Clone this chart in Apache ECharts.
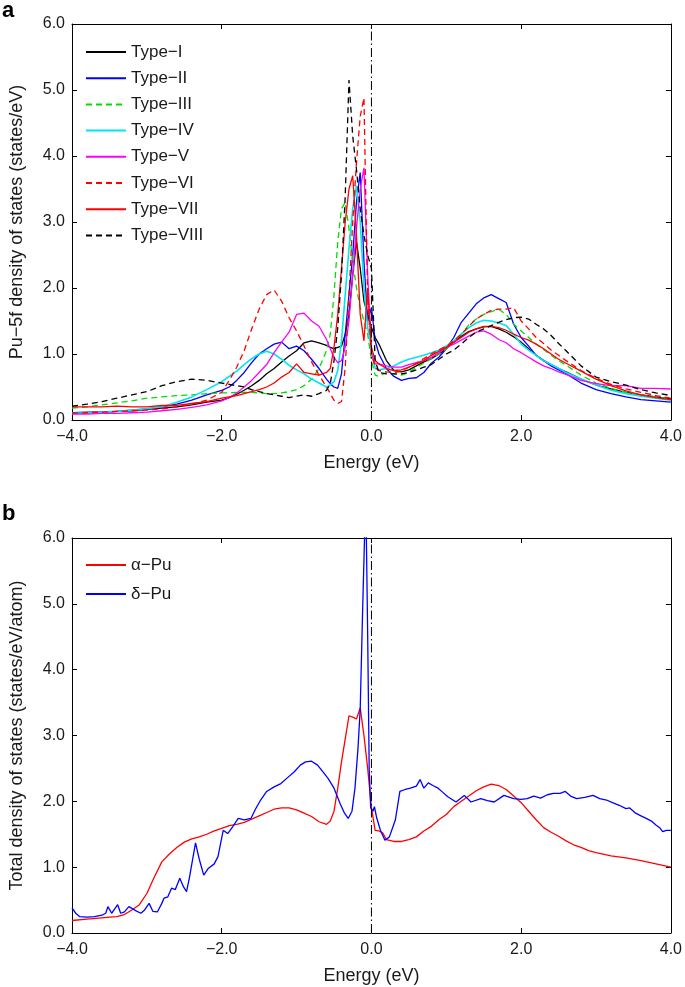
<!DOCTYPE html>
<html>
<head>
<meta charset="utf-8">
<script src="https://cdn.jsdelivr.net/npm/echarts@6/dist/echarts.min.js"></script>
<style>
html,body{margin:0;padding:0;background:#fff;}
#chart{width:685px;height:987px;}
</style>
</head>
<body>
<div id="chart"></div>
<script>
// ---------- Panel a: shared energy grid (eV) ----------
const E_a = [
  -4.0,-3.8,-3.6,-3.4,-3.2,-3.0,-2.8,-2.6,-2.4,-2.2,
  -2.0,-1.9,-1.8,-1.7,-1.6,-1.5,-1.4,-1.3,-1.2,-1.1,
  -1.0,-0.9,-0.8,-0.7,-0.6,
  -0.55,-0.5,-0.45,-0.4,-0.35,-0.3,-0.25,-0.2,-0.15,-0.1,-0.05,0.0,0.05,0.1,
  0.2,0.3,0.4,0.5,0.6,0.7,0.8,0.9,1.0,1.1,1.2,1.3,1.4,1.5,1.6,1.7,1.8,1.9,2.0,2.1,2.2,2.3,2.4,2.5,2.6,
  2.8,3.0,3.2,3.4,3.6,3.8,4.0
];
const typeI = [
  0.11,0.11,0.12,0.13,0.14,0.16,0.18,0.20,0.23,0.27,
  0.30,0.34,0.39,0.45,0.52,0.60,0.70,0.78,0.88,0.97,
  1.05,1.17,1.20,1.17,1.13,
  1.10,1.08,1.10,1.12,1.30,1.60,2.20,2.70,2.30,1.80,1.60,1.40,1.25,1.15,
  0.90,0.75,0.73,0.76,0.82,0.88,0.93,1.00,1.08,1.18,1.27,1.34,1.38,1.41,1.42,1.38,1.33,1.26,1.18,1.08,0.98,0.90,0.84,0.78,0.73,
  0.62,0.53,0.47,0.42,0.38,0.35,0.32
];
const typeII = [
  0.11,0.12,0.12,0.13,0.15,0.17,0.20,0.24,0.30,0.38,
  0.45,0.50,0.60,0.72,0.87,1.00,1.08,1.15,1.18,1.08,
  1.12,1.05,0.92,0.78,0.62,
  0.55,0.50,0.48,0.70,1.30,1.90,2.50,3.30,3.75,2.40,1.50,1.70,1.20,1.00,
  0.78,0.66,0.60,0.63,0.64,0.72,0.86,0.95,1.08,1.25,1.48,1.62,1.76,1.85,1.90,1.84,1.78,1.45,1.25,1.12,0.98,0.90,0.82,0.76,0.70,
  0.56,0.46,0.40,0.35,0.31,0.29,0.27
];
const typeIII = [
  0.18,0.20,0.23,0.26,0.29,0.33,0.35,0.37,0.38,0.40,
  0.41,0.41,0.42,0.42,0.42,0.41,0.40,0.40,0.41,0.43,
  0.46,0.52,0.62,0.78,1.05,
  1.30,1.90,2.70,3.20,3.30,2.90,2.40,2.00,1.70,1.50,1.30,0.90,0.68,0.66,
  0.72,0.70,0.68,0.72,0.80,0.86,0.93,1.00,1.08,1.18,1.30,1.44,1.53,1.60,1.64,1.68,1.60,1.45,1.35,1.25,1.15,1.07,0.98,0.90,0.83,
  0.68,0.56,0.48,0.42,0.38,0.35,0.32
];
const typeIV = [
  0.10,0.11,0.12,0.13,0.15,0.17,0.20,0.27,0.35,0.46,
  0.58,0.66,0.74,0.84,0.93,1.00,1.04,1.00,0.92,0.83,
  0.76,0.70,0.62,0.56,0.50,
  0.53,0.58,0.75,1.20,1.90,2.60,3.20,3.55,3.00,2.00,1.40,1.10,0.78,0.76,
  0.78,0.82,0.88,0.92,0.95,0.98,1.02,1.06,1.12,1.20,1.30,1.40,1.47,1.51,1.50,1.47,1.43,1.30,1.15,1.06,0.98,0.90,0.84,0.78,0.72,
  0.62,0.53,0.45,0.40,0.36,0.33,0.30
];
const typeV = [
  0.09,0.09,0.10,0.10,0.11,0.12,0.14,0.16,0.19,0.23,
  0.29,0.34,0.41,0.50,0.60,0.72,0.84,1.02,1.18,1.33,
  1.60,1.62,1.50,1.42,1.22,
  1.08,0.95,0.87,0.90,1.10,1.50,2.20,2.90,3.50,3.82,2.20,1.00,0.85,0.85,
  0.82,0.80,0.80,0.84,0.87,0.90,0.95,1.02,1.10,1.15,1.21,1.27,1.33,1.35,1.30,1.22,1.17,1.08,1.02,0.95,0.88,0.82,0.78,0.73,0.69,
  0.60,0.55,0.52,0.52,0.48,0.48,0.47
];
const typeVI = [
  0.10,0.11,0.12,0.13,0.14,0.15,0.17,0.20,0.24,0.30,
  0.42,0.60,0.80,1.05,1.38,1.68,1.90,1.97,1.80,1.55,
  1.35,1.12,0.88,0.68,0.50,
  0.40,0.30,0.25,0.28,0.80,1.90,3.00,3.90,4.60,4.88,1.80,1.00,0.80,0.75,
  0.73,0.72,0.74,0.80,0.86,0.93,1.00,1.06,1.12,1.20,1.30,1.42,1.53,1.60,1.66,1.68,1.68,1.70,1.50,1.38,1.25,1.16,1.06,0.98,0.90,
  0.75,0.63,0.54,0.47,0.42,0.37,0.33
];
const typeVII = [
  0.20,0.20,0.20,0.21,0.20,0.20,0.22,0.22,0.25,0.28,
  0.33,0.35,0.37,0.40,0.43,0.46,0.50,0.56,0.65,0.72,
  0.85,0.72,0.70,0.68,0.72,
  0.78,1.10,1.60,2.30,3.00,3.50,3.70,2.80,1.60,1.20,2.00,1.10,0.90,0.85,
  0.78,0.75,0.76,0.80,0.85,0.90,0.98,1.04,1.10,1.18,1.25,1.33,1.38,1.42,1.42,1.40,1.36,1.30,1.25,1.21,1.15,1.08,1.00,0.92,0.86,
  0.74,0.62,0.52,0.44,0.38,0.34,0.31
];
const typeVIII = [
  0.21,0.24,0.28,0.33,0.38,0.43,0.52,0.58,0.62,0.60,
  0.56,0.54,0.52,0.50,0.46,0.43,0.40,0.38,0.36,0.34,
  0.36,0.38,0.36,0.40,0.45,
  0.55,0.90,1.40,2.20,3.40,5.15,4.30,3.80,3.20,2.80,2.50,2.30,0.90,0.72,
  0.70,0.70,0.70,0.72,0.76,0.80,0.84,0.92,1.00,1.06,1.15,1.25,1.33,1.38,1.43,1.48,1.52,1.55,1.56,1.53,1.45,1.38,1.28,1.16,1.05,
  0.82,0.65,0.58,0.53,0.46,0.41,0.37
];
const typeNames = ['Type\u2212I','Type\u2212II','Type\u2212III','Type\u2212IV','Type\u2212V','Type\u2212VI','Type\u2212VII','Type\u2212VIII'];

// ---------- Panel b ----------
const alphaE = [
  -4.0,-3.8,-3.6,-3.5,-3.4,-3.3,-3.2,-3.1,-3.0,-2.9,-2.8,-2.7,-2.6,-2.5,-2.4,-2.3,-2.2,-2.1,-2.0,
  -1.9,-1.8,-1.7,-1.6,-1.5,-1.4,-1.3,-1.2,-1.1,-1.0,-0.9,-0.8,-0.7,-0.6,-0.55,-0.5,-0.45,-0.4,-0.35,
  -0.3,-0.25,-0.2,-0.15,-0.1,-0.05,0.0,0.05,0.1,0.15,0.2,0.3,0.4,0.5,0.6,0.7,0.8,0.9,1.0,
  1.1,1.2,1.3,1.4,1.5,1.6,1.7,1.8,1.9,2.0,2.1,2.2,2.3,2.4,2.5,2.6,2.7,2.8,2.9,3.0,3.2,3.4,3.6,3.8,4.0
];
const alphaDOS = [
  0.19,0.21,0.23,0.24,0.25,0.28,0.35,0.43,0.60,0.85,1.08,1.20,1.30,1.38,1.43,1.46,1.50,1.55,1.59,
  1.63,1.65,1.68,1.73,1.78,1.83,1.88,1.90,1.90,1.87,1.82,1.77,1.69,1.65,1.70,1.85,2.20,2.60,2.95,
  3.30,3.28,3.25,3.42,3.00,2.50,1.90,1.56,1.55,1.52,1.42,1.39,1.39,1.42,1.46,1.55,1.62,1.72,1.80,
  1.92,2.00,2.08,2.16,2.22,2.26,2.24,2.18,2.08,1.98,1.85,1.72,1.60,1.53,1.47,1.40,1.34,1.30,1.25,1.22,1.17,1.14,1.10,1.05,1.00
];
const deltaE = [
  -4.0,-3.95,-3.9,-3.8,-3.7,-3.6,-3.55,-3.52,-3.47,-3.42,-3.39,-3.35,-3.3,-3.24,-3.15,-3.08,-3.03,-2.97,-2.92,-2.86,
  -2.8,-2.77,-2.72,-2.67,-2.62,-2.56,-2.51,-2.47,-2.43,-2.35,-2.3,-2.24,-2.18,-2.1,-2.05,-1.98,-1.92,-1.85,-1.78,-1.7,
  -1.61,-1.55,-1.48,-1.4,-1.3,-1.21,-1.12,-1.03,-0.95,-0.88,-0.8,-0.72,-0.65,-0.58,-0.5,-0.42,-0.36,-0.31,-0.26,-0.22,
  -0.18,-0.15,-0.12,-0.09,-0.07,-0.05,-0.03,-0.01,0.02,0.04,0.07,0.12,0.18,0.24,0.32,0.38,0.45,0.52,0.6,0.65,
  0.7,0.76,0.82,0.89,0.95,1.02,1.13,1.24,1.33,1.46,1.55,1.64,1.77,1.9,2.0,2.08,2.17,2.26,2.35,2.43,
  2.52,2.59,2.66,2.74,2.85,2.96,3.05,3.14,3.22,3.31,3.4,3.45,3.53,3.6,3.67,3.74,3.8,3.85,3.89,3.94,4.0
];
const deltaDOS = [
  0.38,0.30,0.25,0.24,0.25,0.27,0.30,0.40,0.30,0.38,0.43,0.30,0.32,0.40,0.34,0.30,0.35,0.45,0.33,0.32,
  0.45,0.53,0.55,0.68,0.66,0.83,0.70,0.63,0.85,1.37,1.12,0.88,0.98,1.05,1.16,1.56,1.51,1.62,1.74,1.72,
  1.74,1.88,2.02,2.15,2.22,2.27,2.36,2.45,2.55,2.60,2.61,2.55,2.45,2.35,2.20,1.97,1.82,1.74,1.85,2.20,
  2.80,3.40,4.80,6.10,6.20,4.50,2.50,1.90,1.85,1.92,1.75,1.56,1.41,1.46,1.72,2.15,2.18,2.20,2.23,2.33,
  2.20,2.28,2.24,2.20,2.14,2.07,1.99,2.09,1.99,2.04,2.01,1.99,2.09,2.04,2.03,2.04,2.08,2.05,2.10,2.12,
  2.12,2.15,2.08,2.04,2.06,2.09,2.04,2.02,1.98,1.94,1.89,1.90,1.82,1.78,1.74,1.70,1.64,1.60,1.54,1.56,1.56
];
const phaseNames = ['\u03b1\u2212Pu','\u03b4\u2212Pu'];

// axis ranges / ticks
const xTicks = [-4, 4, 2];   // min, max, interval
const yTicks = [0, 6, 1];
const fermiLine = [[0, 0], [0, 6]];

const FONT = '"Liberation Sans", Arial, Helvetica, sans-serif';
const TXT = '#1a1a1a';
const fmt = v => (v < 0 ? '\u2212' : '') + Math.abs(v).toFixed(1);

function pair(xs, ys) { return xs.map((x, i) => [x, ys[i]]); }

const grids = [
  {left: 67, top: 24, width: 605, height: 396},
  {left: 67, top: 538, width: 605, height: 395}
];

function xAxes(gi) {
  return [
    {type: 'value', gridIndex: gi, min: xTicks[0], max: xTicks[1], interval: xTicks[2],
     position: 'bottom',
     name: 'Energy (eV)', nameLocation: 'middle', nameGap: 34,
     nameTextStyle: {fontFamily: FONT, fontSize: 18, color: TXT},
     axisLine: {show: true, onZero: false, lineStyle: {color: '#000', width: 1}},
     axisTick: {show: true, inside: true, length: 5, lineStyle: {color: '#000'}},
     axisLabel: {formatter: fmt, fontFamily: FONT, fontSize: 16, color: TXT, margin: 9},
     splitLine: {show: false}},
    {type: 'value', gridIndex: gi, min: xTicks[0], max: xTicks[1], interval: xTicks[2],
     position: 'top',
     axisLine: {show: true, onZero: false, lineStyle: {color: '#000', width: 1}},
     axisTick: {show: true, inside: true, length: 5, lineStyle: {color: '#000'}},
     axisLabel: {show: false}, splitLine: {show: false}}
  ];
}
function yAxes(gi, title) {
  return [
    {type: 'value', gridIndex: gi, min: yTicks[0], max: yTicks[1], interval: yTicks[2],
     position: 'left',
     name: title, nameLocation: 'middle', nameGap: 46, nameRotate: 90,
     nameTextStyle: {fontFamily: FONT, fontSize: 18, color: TXT},
     axisLine: {show: true, onZero: false, lineStyle: {color: '#000', width: 1}},
     axisTick: {show: true, inside: true, length: 5, lineStyle: {color: '#000'}},
     axisLabel: {formatter: fmt, fontFamily: FONT, fontSize: 16, color: TXT, margin: 7},
     splitLine: {show: false}},
    {type: 'value', gridIndex: gi, min: yTicks[0], max: yTicks[1], interval: yTicks[2],
     position: 'right',
     axisLine: {show: true, onZero: false, lineStyle: {color: '#000', width: 1}},
     axisTick: {show: true, inside: true, length: 5, lineStyle: {color: '#000'}},
     axisLabel: {show: false}, splitLine: {show: false}}
  ];
}

const aStyles = [
  {c: '#000000', t: 'solid'},
  {c: '#0000ff', t: 'solid'},
  {c: '#00dd00', t: [6, 4]},
  {c: '#00e5ee', t: 'solid'},
  {c: '#ff00ff', t: 'solid'},
  {c: '#ff0000', t: [6, 4]},
  {c: '#ff0000', t: 'solid'},
  {c: '#000000', t: [6, 4]}
];
const aData = [typeI, typeII, typeIII, typeIV, typeV, typeVI, typeVII, typeVIII];

const series = [];
aData.forEach((arr, i) => {
  series.push({
    name: typeNames[i], type: 'line', xAxisIndex: 0, yAxisIndex: 0,
    data: pair(E_a, arr), symbol: 'none', silent: true, animation: false, clip: true,
    lineStyle: {color: aStyles[i].c, width: i === 3 ? 1.6 : 1.3, type: aStyles[i].t},
    itemStyle: {color: aStyles[i].c}
  });
});
series.push({
  name: 'fermiA', type: 'line', xAxisIndex: 0, yAxisIndex: 0, data: fermiLine,
  symbol: 'none', silent: true, animation: false,
  lineStyle: {color: '#000', width: 1, type: [9, 3, 1.5, 3]}
});
series.push({
  name: phaseNames[0], type: 'line', xAxisIndex: 2, yAxisIndex: 2,
  data: pair(alphaE, alphaDOS), symbol: 'none', silent: true, animation: false, clip: true,
  lineStyle: {color: '#ff0000', width: 1.3}, itemStyle: {color: '#ff0000'}
});
series.push({
  name: phaseNames[1], type: 'line', xAxisIndex: 2, yAxisIndex: 2,
  data: pair(deltaE, deltaDOS), symbol: 'none', silent: true, animation: false, clip: true,
  lineStyle: {color: '#0000ff', width: 1.3}, itemStyle: {color: '#0000ff'}
});
series.push({
  name: 'fermiB', type: 'line', xAxisIndex: 2, yAxisIndex: 2, data: fermiLine,
  symbol: 'none', silent: true, animation: false,
  lineStyle: {color: '#000', width: 1, type: [9, 3, 1.5, 3]}
});

const legendCommon = {
  orient: 'vertical', itemWidth: 40, itemHeight: 12,
  textStyle: {fontFamily: FONT, fontSize: 17, color: TXT, lineHeight: 18},
  itemStyle: {opacity: 0},
  selectedMode: false, inactiveColor: '#000'
};

const chart = echarts.init(document.getElementById('chart'), null, {renderer: 'canvas'});
chart.setOption({
  backgroundColor: '#fff',
  animation: false,
  grid: grids,
  xAxis: [...xAxes(0), ...xAxes(1)],
  yAxis: [...yAxes(0, 'Pu\u22125f density of states (states/eV)'), ...yAxes(1, 'Total density of states (states/eV/atom)')],
  legend: [
    Object.assign({}, legendCommon, {data: typeNames, left: 80, top: 38, itemGap: 8.2}),
    Object.assign({}, legendCommon, {data: phaseNames, left: 80, top: 551, itemGap: 11})
  ],
  graphic: [
    {type: 'text', left: 2, top: 0, style: {text: 'a', font: 'bold 22px ' + FONT, fill: '#000'}},
    {type: 'text', left: 2, top: 503, style: {text: 'b', font: 'bold 22px ' + FONT, fill: '#000'}}
  ],
  series: series
});
</script>
</body>
</html>
